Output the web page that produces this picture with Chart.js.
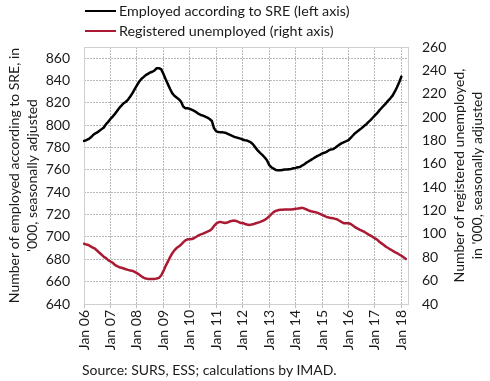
<!DOCTYPE html>
<html>
<head>
<meta charset="utf-8">
<script src="https://cdn.jsdelivr.net/npm/chart.js@4.4.1/dist/chart.umd.min.js"></script>
<style>
  html, body { margin: 0; padding: 0; background: #fff; }
  #wrap { position: relative; width: 490px; height: 381px; font-family: Lato, sans-serif; color: #1a1a1a; }
  canvas { position: absolute; left: 0; top: 0; }
  .leg { position: absolute; left: 85px; height: 20px; font-size: 14.3px; line-height: 20px; white-space: nowrap; }
  .leg i { display: inline-block; width: 31px; height: 0; border-top: 2.5px solid; vertical-align: middle; margin-right: 3px; position: relative; top: -1px; }
  #source { position: absolute; left: 82px; top: 360px; font-size: 14px; line-height: 20px; white-space: nowrap; }
</style>
</head>
<body>
<div id="wrap">
  <canvas id="chart" width="490" height="381"></canvas>
  <div class="leg" style="top:1px"><i style="border-color:#000"></i>Employed according to SRE (left axis)</div>
  <div class="leg" style="top:21px"><i style="border-color:#ab1a33"></i>Registered unemployed (right axis)</div>
  <div id="source">Source: SURS, ESS; calculations by IMAD.</div>
</div>
<script>
// Categories: monthly, Jan 2006 .. Apr 2018
const years = ["06", "07", "08", "09", "10", "11", "12", "13", "14", "15", "16", "17", "18"];
const monthNames = ["Jan", "Feb", "Mar", "Apr", "May", "Jun", "Jul", "Aug", "Sep", "Oct", "Nov", "Dec"];
const months = [];
years.forEach((y) => monthNames.forEach((m) => months.push(m + " " + y)));
const categories = months.slice(0, 148);

// Employed according to SRE, '000 (left axis), Jan 06 .. Jan 18
const employed = [
  786, 786.6, 787.5, 789, 791, 792.5, 793.5, 795, 796.5, 798, 801, 803,
  805.6, 807.7, 810, 812.8, 815.5, 817.6, 819.7, 821, 823, 825.7, 828.7, 832.3,
  835.6, 838.9, 841.3, 843, 844.8, 846, 847.2, 847.8, 849, 851, 851, 850.2,
  846, 841.3, 837, 832.6, 828.7, 826.3, 824.8, 823.3, 821.2, 816.7, 815.2, 815.2,
  814.6, 813.7, 812.8, 811.6, 810.1, 809.2, 808.6, 807.7, 806.8, 805.6, 803.8, 797.2,
  794.5, 794, 793.6, 793.6, 793.3, 792.4, 791.5, 790.6, 789.7, 789.1, 788.5, 788,
  787.2, 786.6, 786.3, 785.4, 784.2, 782.1, 779.5, 777, 775, 773.2, 771.1, 768.7,
  764.5, 762.4, 761.2, 760, 759.7, 759.7, 760, 760.3, 760.3, 760.6, 760.9, 761.5,
  761.8, 762.4, 762.7, 763.9, 765.1, 766.6, 767.8, 769, 770.2, 771.4, 772.6, 773.5,
  774.7, 775.3, 776.2, 777.4, 778.3, 778.6, 779.8, 781.3, 782.8, 784, 784.9, 785.7,
  786.6, 788.7, 790.8, 792.9, 794.4, 795.9, 797.4, 799.2, 800.7, 802.8, 804.6, 806.7,
  808.8, 810.8, 813.3, 815.4, 817.5, 819.6, 822, 824.1, 826.5, 830, 834, 838.5,
  843.5,
];

// Registered unemployed, '000 (right axis), Jan 06 .. Mar 18
const unemployed = [
  91.6, 91, 90.5, 89.3, 88.2, 87.3, 85.6, 83.9, 82.2, 80.4, 79.3, 77.6,
  76.4, 75.3, 73.5, 72.4, 71.5, 71, 70.4, 69.8, 69.2, 68.7, 68.4, 67.5,
  66.4, 65.2, 63.8, 62.6, 61.8, 61.5, 61.5, 61.5, 61.5, 61.8, 62.4, 64.4,
  68.1, 72.4, 76.1, 79.9, 83.3, 85.9, 87.9, 89.3, 90.8, 92.8, 94.5, 95.4,
  95.4, 95.6, 96.5, 97.6, 98.8, 99.6, 100.2, 101.1, 101.9, 102.8, 104.2, 106.8,
  108.8, 110, 110.3, 109.7, 109.4, 109.7, 110.6, 111.1, 111.4, 111.1, 110.3, 109.4,
  109.4, 108.5, 108, 107.7, 108, 108.5, 109.1, 109.7, 110.3, 111.1, 112, 113.4,
  114.9, 116.9, 118.6, 119.7, 120.3, 120.6, 120.6, 120.9, 120.9, 120.9, 120.9, 121.2,
  121.5, 121.7, 122, 122.3, 121.7, 120.9, 120, 119.4, 118.9, 118.6, 118, 117.2,
  116.3, 115.4, 114.6, 114, 113.7, 113.4, 112.9, 112.3, 111.1, 110, 109.1, 109.1,
  109.1, 108.5, 107.1, 105.7, 104.8, 103.7, 102.8, 101.9, 100.8, 99.6, 98.5, 97.4,
  96.2, 95.1, 93.3, 91.9, 90.5, 89, 87.9, 86.7, 85.6, 84.4, 83.6, 82.4,
  81.3, 80, 78.6,
];

const leftTitle = ["Number of employed according to SRE, in", "'000, seasonally adjusted"];
const rightTitle = ["Number of registered unemployed,", "in '000, seasonally adjusted"];

const FONT = "Lato, sans-serif";
const TEXT = "#1a1a1a";
const GRID = "#b8b8b8";

// Frame around the plot area plus the rotated axis titles
const framePlugin = {
  id: "frame",
  beforeDatasetsDraw(chart) {
    const a = chart.chartArea;
    const ctx = chart.ctx;
    ctx.save();
    ctx.strokeStyle = "#d0d0d0";
    ctx.lineWidth = 1;
    ctx.strokeRect(Math.round(a.left) + 0.5, Math.round(a.top) + 0.5,
      Math.round(a.right - a.left), Math.round(a.bottom - a.top));
    ctx.restore();
  },
  afterDraw(chart) {
    const a = chart.chartArea;
    const ctx = chart.ctx;
    const cy = (a.top + a.bottom) / 2;
    ctx.save();
    ctx.fillStyle = TEXT;
    ctx.font = "14px " + FONT;
    ctx.textAlign = "center";
    ctx.textBaseline = "middle";
    [[14, leftTitle[0]], [32, leftTitle[1]], [459, rightTitle[0]], [477, rightTitle[1]]].forEach(([x, t]) => {
      ctx.save();
      ctx.translate(x, cy);
      ctx.rotate(-Math.PI / 2);
      ctx.fillText(t, 0, 0);
      ctx.restore();
    });
    ctx.restore();
  },
};

const isJan = (ctx) => ctx.tick && categories[ctx.tick.value] && categories[ctx.tick.value].startsWith("Jan");

new Chart(document.getElementById("chart"), {
  type: "line",
  data: {
    labels: categories,
    datasets: [
      {
        label: "Employed according to SRE (left axis)",
        data: employed,
        yAxisID: "y",
        borderColor: "#000000",
        borderWidth: 2.5,
        pointRadius: 0,
        tension: 0,
        borderJoinStyle: "round",
        borderCapStyle: "round",
      },
      {
        label: "Registered unemployed (right axis)",
        data: unemployed,
        yAxisID: "y1",
        borderColor: "#ab1a33",
        borderWidth: 2.5,
        pointRadius: 0,
        tension: 0,
        borderJoinStyle: "round",
        borderCapStyle: "round",
      },
    ],
  },
  options: {
    responsive: false,
    animation: false,
    layout: { padding: { top: 47, left: 0, right: 0, bottom: 0 } },
    plugins: {
      legend: { display: false },
      tooltip: { enabled: false },
    },
    scales: {
      x: {
        type: "category",
        offset: false,
        afterFit: (s) => { s.height = 77; },
        border: { display: false, dash: [2, 1] },
        grid: {
          color: (ctx) => (isJan(ctx) ? GRID : "transparent"),
          tickColor: (ctx) => (isJan(ctx) ? "#bdbdbd" : "transparent"),
          drawTicks: true,
          tickLength: 4,
          tickBorderDash: [],
        },
        ticks: {
          autoSkip: false,
          minRotation: 90,
          maxRotation: 90,
          padding: 2,
          color: TEXT,
          font: { family: FONT, size: 14 },
          callback: function (value) {
            const l = this.getLabelForValue(value);
            return l.startsWith("Jan") ? l : "";
          },
        },
      },
      y: {
        position: "left",
        min: 640,
        max: 870,
        bounds: "data",
        afterFit: (s) => { s.width = 84; },
        border: { display: false, dash: [2, 1] },
        grid: { color: GRID, drawTicks: false },
        ticks: {
          stepSize: 20,
          includeBounds: false,
          padding: 14,
          color: TEXT,
          font: { family: FONT, size: 14 },
          callback: (v) => (v > 860 ? "" : v),
        },
      },
      y1: {
        position: "right",
        min: 40,
        max: 260,
        afterFit: (s) => { s.width = 82; },
        border: { display: false },
        grid: { drawOnChartArea: false, drawTicks: false },
        ticks: {
          stepSize: 20,
          padding: 14,
          color: TEXT,
          font: { family: FONT, size: 14 },
        },
      },
    },
  },
  plugins: [framePlugin],
});
</script>
</body>
</html>
